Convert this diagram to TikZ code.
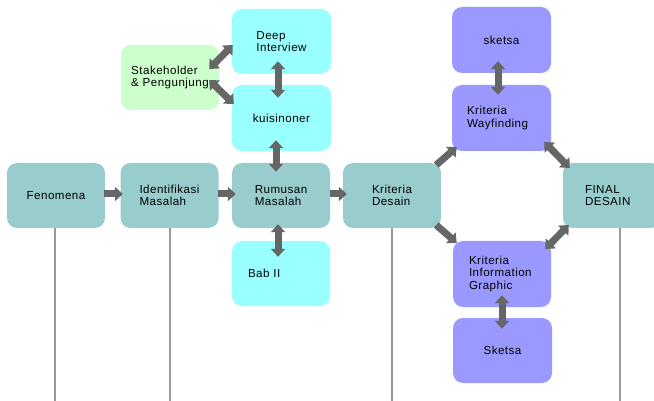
\documentclass[tikz,border=0pt]{standalone}
\usepackage{fontspec}
\setmainfont{Liberation Sans}[LetterSpace=4]
\usetikzlibrary{arrows.meta,calc}
\definecolor{tealc}{HTML}{99CCCC}
\definecolor{cyanc}{HTML}{99FFFF}
\definecolor{greenc}{HTML}{CCFFCC}
\definecolor{purpc}{HTML}{9999FF}
\definecolor{arrgray}{HTML}{666666}
\definecolor{linegray}{HTML}{999999}
\begin{document}
\begin{tikzpicture}[x=1pt,y=-1pt,
  box/.style={rounded corners=10pt, minimum width=98pt, minimum height=65pt, inner sep=0pt,
    align=left, font=\fontsize{11.6}{12.7}\selectfont, text=black},
  teal/.style={box, fill=tealc},
  cyanbox/.style={box, fill=cyanc},
  greenbox/.style={box, fill=greenc},
  purpbox/.style={box, fill=purpc},
  sarr/.style={draw=arrgray, line width=7pt, -{Triangle[width=14pt,length=8pt]}},
  darr/.style={draw=arrgray, line width=7pt, {Triangle[width=14pt,length=8pt]}-{Triangle[width=14pt,length=8pt]}},
  vline/.style={draw=linegray, line width=1.2pt}]
\useasboundingbox (0,0) rectangle (654,401);

% boxes
\node[teal] (fen) at (56,195.5) {Fenomena};
\node[teal] (ide) at (169.5,195.5) {Identifikasi\\Masalah};
\node[teal] (rum) at (281,195.5) {Rumusan\\Masalah};
\node[cyanbox, text width=66pt] (bab) at (281,273.5) {Bab II};
\node[cyanbox, minimum width=99pt, minimum height=66pt] (kuis) at (281.5,118) {kuisinoner};
\node[cyanbox, minimum width=99pt] (deep) at (281.5,41.5) {Deep\\Interview};
\node[greenbox] (stake) at (170,77.5) {Stakeholder\\\& Pengunjung};
\node[teal] (krd) at (392,195.5) {Kriteria\\Desain};
\node[purpbox, minimum width=99pt, minimum height=66pt] (sk1) at (501.5,40) {sketsa};
\node[purpbox, minimum width=99pt, minimum height=66pt, text width=69pt] (way) at (501.5,118) {Kriteria\\Wayfinding};
\node[teal, text width=54pt] (fin) at (612,195.5) {FINAL\\DESAIN};
\node[purpbox, minimum height=66pt, text width=66pt] (info) at (502,274) {Kriteria\\Information\\Graphic};
\node[purpbox, minimum width=99pt] (sk2) at (502.5,350.5) {Sketsa};

% vertical lines
\draw[vline] ($(fen.south)+(-1,0)$) -- ++(0,173);
\draw[vline] ($(ide.south)+(0.5,0)$) -- ++(0,173);
\draw[vline] (krd.south) -- ++(0,173);
\draw[vline] ($(fin.south)+(8,0)$) -- ++(0,173);

% arrows
\draw[sarr] ($(fen.east)+(-1,-1.5)$) -- ($(ide.west)+(2.5,-1.5)$);
\draw[sarr] ($(ide.east)+(-0.5,-1.5)$) -- ($(rum.west)+(4,-1.5)$);
\draw[sarr] ($(rum.east)+(0,-1.5)$) -- ($(krd.west)+(4,-1.5)$);
\draw[darr] ($(kuis.south)+(-5.5,-11)$) -- ($(rum.north)+(-5,9)$);
\draw[darr] ($(rum.south)+(-3,-4)$) -- ($(bab.north)+(-3,16)$);
\draw[darr] ($(deep.south)+(-3.5,-13)$) -- ($(kuis.north)+(-3.5,13)$);
\draw[darr] ($(stake.east)+(-10,-8.5)$) -- ($(deep.west)+(1,3.5)$);
\draw[darr] ($(stake.east)+(-10,2.5)$) -- ($(kuis.west)+(2,-14)$);
\draw[sarr] ($(krd.east)+(-5,-30.5)$) -- ($(way.west)+(5,29)$);
\draw[sarr] ($(krd.east)+(-5,29.5)$) -- ($(info.west)+(4,-31)$);
\draw[darr] ($(sk1.south)+(-3.5,-12)$) -- ($(way.north)+(-3.5,10)$);
\draw[darr] ($(way.east)+(-7,24)$) -- ($(fin.west)+(7,-27.5)$);
\draw[darr] ($(info.east)+(-6,-25)$) -- ($(fin.west)+(6,29.5)$);
\draw[darr] ($(info.south)+(0,-12)$) -- ($(sk2.north)+(-0.5,11)$);
\end{tikzpicture}
\end{document}
